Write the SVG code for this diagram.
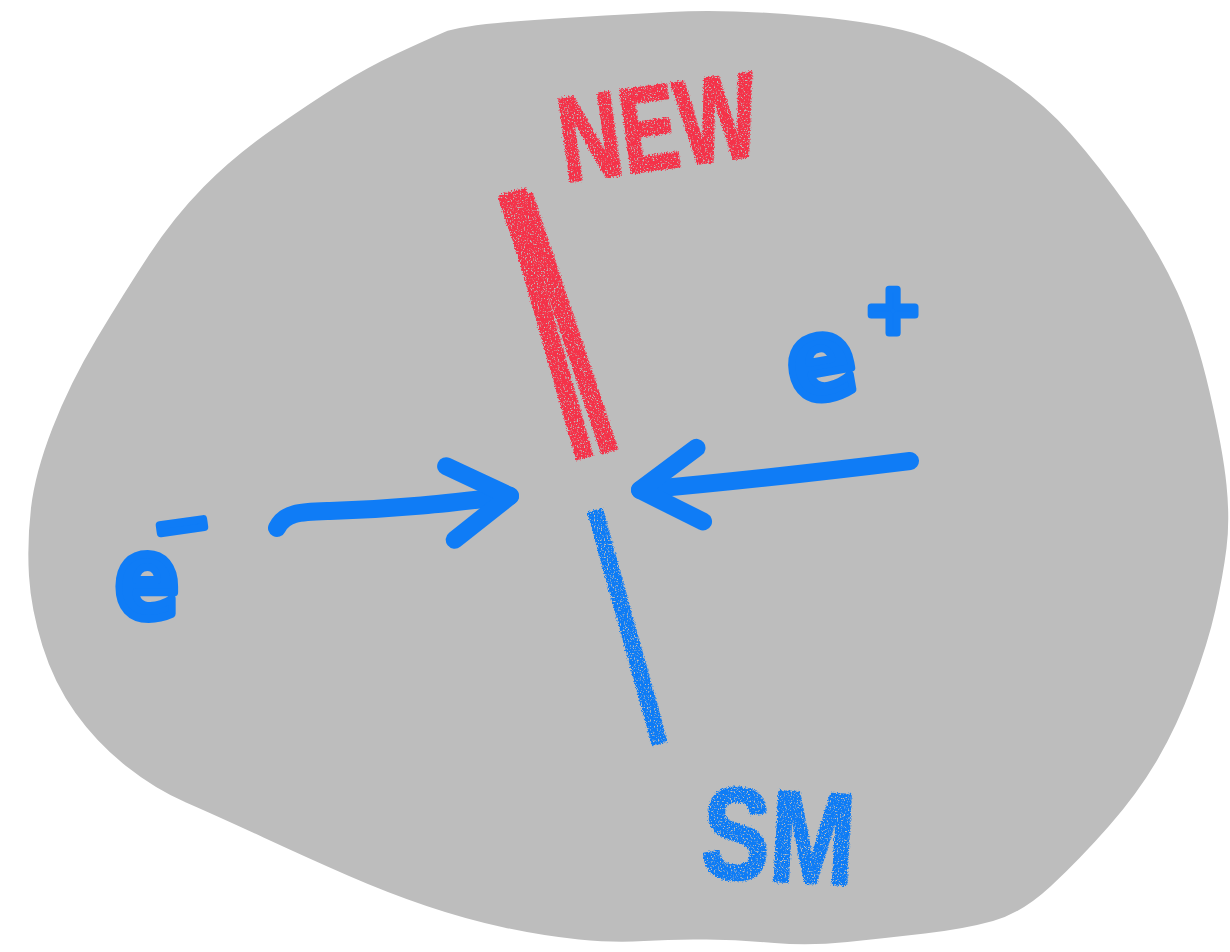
<svg xmlns="http://www.w3.org/2000/svg" width="1230" height="952" viewBox="0 0 1230 952">
<style>
.blue-stroke{fill:none;stroke:#0f7cf6;stroke-width:18;stroke-linecap:round;stroke-linejoin:round}
.ink-blue{fill:#0f7cf6;stroke:#0f7cf6;stroke-linejoin:round;stroke-linecap:round;font-family:"DejaVu Sans",sans-serif;font-weight:bold}
.chalk-red{fill:none;stroke:#f5334a;stroke-linecap:butt}
.chalk-blue{fill:none;stroke:#0f7cf6;stroke-linecap:butt}
.hand{font-family:"Liberation Sans",Arial,sans-serif;font-weight:bold;stroke-width:3;stroke-linejoin:round}
</style>
<defs>
<filter id="crayon" filterUnits="userSpaceOnUse" x="0" y="0" width="1230" height="952">
<feTurbulence type="fractalNoise" baseFrequency="0.7" numOctaves="3" seed="3" result="n"/>
<feDisplacementMap in="SourceGraphic" in2="n" scale="5" xChannelSelector="R" yChannelSelector="G" result="d"/>
<feColorMatrix in="n" type="matrix" values="0 0 0 0 0  0 0 0 0 0  0 0 0 0 0  5 0 0 0 -1.2" result="m"/>
<feComposite in="d" in2="m" operator="in"/>
</filter>
<marker id="chev" markerUnits="userSpaceOnUse" orient="auto" overflow="visible" markerWidth="1" markerHeight="1" refX="0" refY="0">
<path d="M -60,-37 L 0,0 L -60,37" fill="none" stroke="#0f7cf6" stroke-width="18" stroke-linecap="round" stroke-linejoin="round"/>
</marker>
</defs>
<rect width="1230" height="952" fill="#ffffff"/>
<g id="blob">
<path fill="#bdbdbd" d="M 443.5,32.5 Q 461,25 534.5,20 Q 608,15 669.5,12 Q 731,9 808.5,16 Q 886,23 925,36.5 Q 964,50 1002.5,75 Q 1041,100 1070.5,133.5 Q 1100,167 1129,208.5 Q 1158,250 1177,291.5 Q 1196,333 1209.5,391.5 Q 1223,450 1226.5,485 Q 1230,520 1226.5,548 Q 1223,576 1215.5,609.5 Q 1208,643 1192.5,684.5 Q 1177,726 1157.5,759.5 Q 1138,793 1109,826 Q 1080,859 1051,886 Q 1022,913 993,921 Q 964,929 925,933.5 Q 886,938 847.5,942 Q 809,946 774.5,943 Q 740,940 706.5,939.5 Q 673,939 644,941 Q 615,943 579,939.5 Q 543,936 504,927.5 Q 465,919 426.5,906 Q 388,893 349,876 Q 310,859 263.5,837.5 Q 217,816 186,802.5 Q 155,789 126,766 Q 97,743 75.5,713 Q 54,683 42.5,646 Q 31,609 29,576 Q 27,543 31,508 Q 35,473 52.5,428 Q 70,383 97,338 Q 124,293 149,255 Q 174,217 203.5,187 Q 233,157 271.5,130 Q 310,103 339,85 Q 368,67 397,53.5 Q 426,40 443.5,32.5 Z"/>
</g>
<g id="connectors">
<path id="arrow-eminus" class="blue-stroke" marker-end="url(#chev)" d="M 277,528 C 285,512 300,512 330,511 C 400,509 450,503 510,496"/>
<path id="arrow-eplus" class="blue-stroke" marker-end="url(#chev)" d="M 910,461 C 820,472 730,482 640,490"/>
<g id="line-new" filter="url(#crayon)">
<line class="chalk-red" x1="509" y1="192" x2="585" y2="458" stroke-width="18"/>
<line class="chalk-red" x1="524" y1="195" x2="610" y2="452" stroke-width="18"/>
<line class="chalk-red" x1="512" y1="192" x2="535" y2="260" stroke-width="30"/>
</g>
<g id="line-sm" filter="url(#crayon)">
<line class="chalk-blue" x1="595" y1="510" x2="660" y2="744" stroke-width="16"/>
</g>
</g>
<g id="label-eminus">
<text class="ink-blue" x="147" y="617" font-size="112" stroke-width="8" text-anchor="middle" transform="translate(147,0) scale(0.85,1) translate(-147,0)">e</text>
<text class="ink-blue" x="182" y="548" font-size="70" stroke-width="8" text-anchor="middle" transform="rotate(-8 182 527)">−</text>
</g>
<g id="label-eplus">
<text class="ink-blue" x="822" y="398" font-size="112" stroke-width="8" text-anchor="middle" transform="rotate(-10 822 368) translate(822,0) scale(0.9,1) translate(-822,0)">e</text>
<text class="ink-blue" x="893" y="333" font-size="70" stroke-width="7" text-anchor="middle">+</text>
</g>
<g id="label-new" filter="url(#crayon)">
<text class="hand" fill="#f5334a" stroke="#f5334a" font-size="120" textLength="200" lengthAdjust="spacingAndGlyphs" transform="translate(565,182) rotate(-8)">NEW</text>
</g>
<g id="label-sm" filter="url(#crayon)">
<text class="hand" fill="#0f7cf6" stroke="#0f7cf6" font-size="130" textLength="153" lengthAdjust="spacingAndGlyphs" transform="translate(700,877) rotate(3)">SM</text>
</g>
</svg>
